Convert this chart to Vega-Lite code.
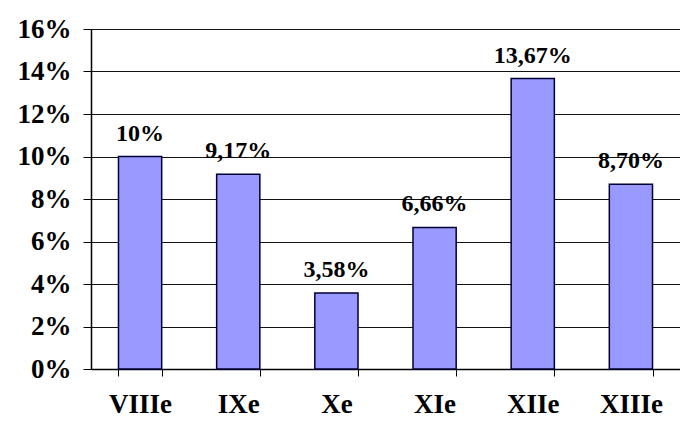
{
  "$schema": "https://vega.github.io/schema/vega-lite/v6.json",
  "width": 589,
  "height": 340,
  "autosize": {"type": "none"},
  "padding": {"left": 91, "top": 29, "right": 0, "bottom": 52},
  "background": "white",
  "config": {"view": {"stroke": null}},
  "data": {
    "values": [
      {"siecle": "VIIIe", "part": 0.10, "etiquette": "10%"},
      {"siecle": "IXe", "part": 0.0917, "etiquette": "9,17%"},
      {"siecle": "Xe", "part": 0.0358, "etiquette": "3,58%"},
      {"siecle": "XIe", "part": 0.0666, "etiquette": "6,66%"},
      {"siecle": "XIIe", "part": 0.1367, "etiquette": "13,67%"},
      {"siecle": "XIIIe", "part": 0.087, "etiquette": "8,70%"}
    ]
  },
  "encoding": {
    "x": {
      "field": "siecle",
      "type": "nominal",
      "sort": null,
      "scale": {"paddingInner": 0.56, "paddingOuter": 0.28},
      "axis": {
        "title": null,
        "labelAngle": 0,
        "labelFont": "Liberation Serif",
        "labelFontWeight": "bold",
        "labelFontSize": 27,
        "labelColor": "black",
        "labelPadding": 15,
        "tickBand": "extent",
        "tickColor": "black",
        "tickSize": 7,
        "domainColor": "black",
        "domainWidth": 1.5
      }
    },
    "y": {
      "field": "part",
      "type": "quantitative",
      "scale": {"domain": [0, 0.16], "nice": false},
      "axis": {
        "title": null,
        "format": ".0%",
        "values": [0, 0.02, 0.04, 0.06, 0.08, 0.10, 0.12, 0.14, 0.16],
        "labelFont": "Liberation Serif",
        "labelFontWeight": "bold",
        "labelFontSize": 27,
        "labelColor": "black",
        "labelPadding": 12,
        "tickColor": "black",
        "tickSize": 8,
        "domainColor": "black",
        "domainWidth": 1.5,
        "gridColor": "#111111",
        "gridWidth": 1.2
      }
    }
  },
  "layer": [
    {
      "mark": {"type": "bar", "color": "#9999FF", "stroke": "#000033", "strokeWidth": 1.5}
    },
    {
      "mark": {
        "type": "text",
        "baseline": "bottom",
        "dy": -11,
        "font": "Liberation Serif",
        "fontWeight": "bold",
        "fontSize": 24,
        "color": "black"
      },
      "encoding": {"text": {"field": "etiquette"}}
    }
  ]
}
